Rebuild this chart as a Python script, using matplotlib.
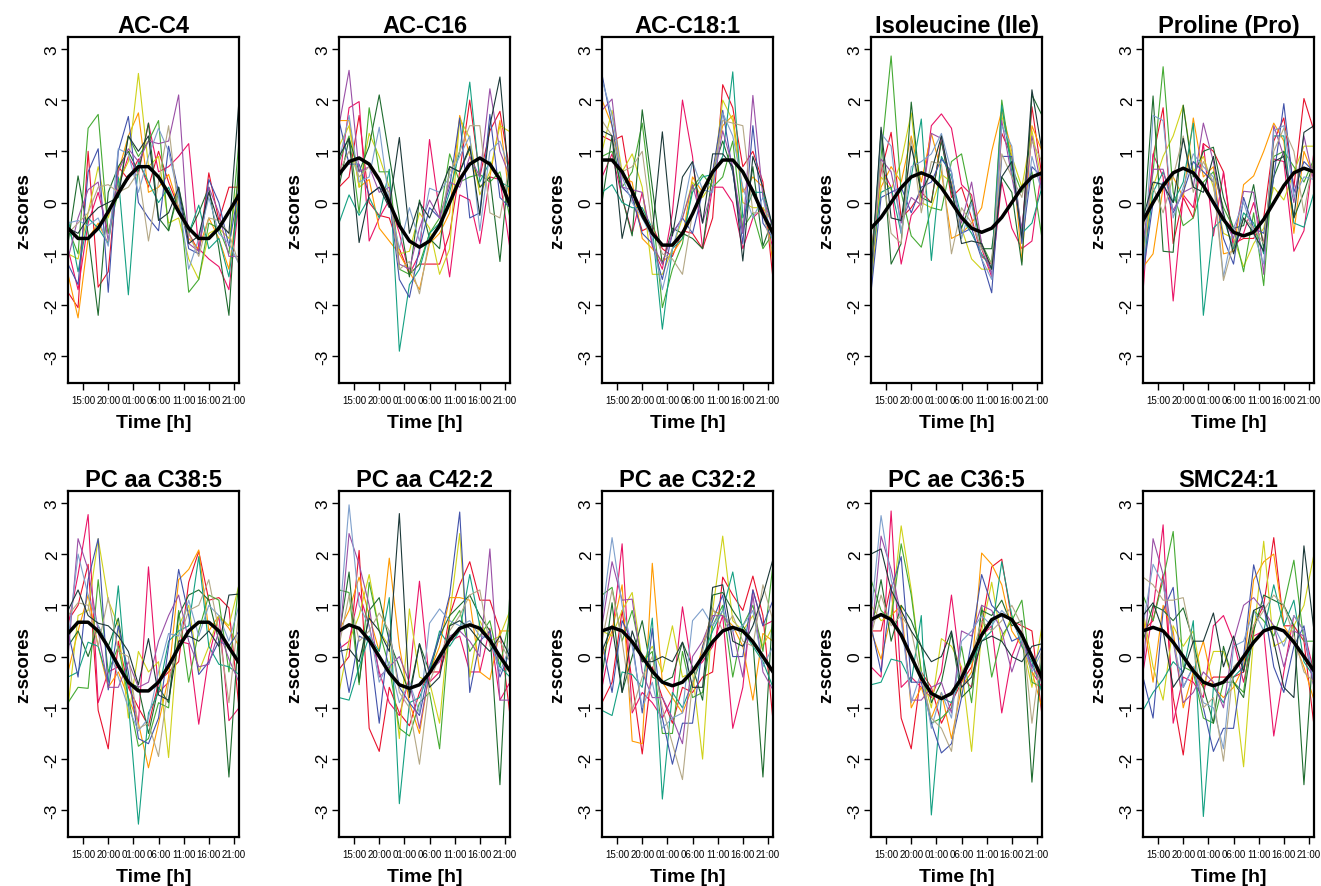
import matplotlib
matplotlib.use('Agg')
import matplotlib.pyplot as plt

plt.rcParams['font.family'] = ['Liberation Sans', 'DejaVu Sans']

# sampling times (hours from midnight of day 1), every 2 h
time_h = [12, 14, 16, 18, 20, 22, 24, 26, 28, 30, 32, 34, 36, 38, 40, 42, 44, 46]
tick_pos = [15, 20, 25, 30, 35, 40, 45]
tick_lab = ['15:00', '20:00', '01:00', '06:00', '11:00', '16:00', '21:00']

titles = ['AC-C4', 'AC-C16', 'AC-C18:1', 'Isoleucine (Ile)', 'Proline (Pro)',
          'PC aa C38:5', 'PC aa C42:2', 'PC ae C32:2', 'PC ae C36:5', 'SMC24:1']

# one colour per subject
subj_colors = ['#E8112D', '#EA1467', '#FF9A00', '#CFD21A', '#45AA33', '#1E6B2E',
               '#14A082', '#4152AA', '#9A4FA6', '#7FA0CC', '#B4A886', '#1B3838']

# z-scores per subject (rows) at each time point
ac_c4 = [
    [-1.75, -2.05, 1.0, -1.65, -1.35, 0.7, 0.45, 0.85, 0.3, 1.0, 0.4, -0.1, -0.6, -0.95, 0.58, -0.35, 0.3, 0.3],
    [-0.9, -1.7, -0.4, 0.2, -0.6, 0.3, 0.9, 0.55, 1.55, 0.6, 0.7, 0.9, 1.15, -0.9, -1.1, -1.25, -1.7, 0.0],
    [-1.4, -2.25, -0.7, -0.4, -0.8, 0.6, 1.3, 1.75, 0.2, 0.3, 0.55, -0.1, -0.7, -0.9, -0.3, -0.7, -1.3, 0.2],
    [-1.0, -1.1, -0.2, 0.7, -0.3, 0.4, 0.8, 2.52, 0.7, 0.9, -0.4, -0.3, -1.1, -1.5, -0.6, -0.5, -0.7, 0.5],
    [-0.5, -1.0, 1.45, 1.72, -0.6, 0.2, 1.3, 0.9, 1.2, 1.6, -0.55, 0.2, -1.75, -1.5, -0.4, -0.5, -1.0, 1.2],
    [-0.8, 0.52, -0.6, -2.2, 0.2, 0.7, 1.0, 0.6, 1.55, -0.3, -0.55, 0.3, -0.6, -0.2, 0.3, -0.9, -2.2, 0.9],
    [-0.3, -1.35, -0.3, -0.5, -0.8, 0.5, -1.8, 0.8, 0.4, 0.0, 0.3, -0.2, -0.6, -0.05, -0.9, -0.7, -1.45, 0.1],
    [-1.2, -1.6, 0.6, 1.05, -1.75, 1.0, 1.68, 0.0, -0.3, -0.55, 1.1, 0.2, -0.9, -1.0, 0.45, 0.0, -0.85, 0.3],
    [-1.1, -0.3, 0.25, 0.4, -0.75, 0.6, 1.05, 0.8, 1.2, 1.15, 1.2, 2.1, -0.8, -0.95, 0.3, -0.2, -1.05, -1.05],
    [-0.4, -0.35, -0.45, -0.3, -0.85, 1.05, 0.95, 0.2, 0.9, 1.45, 1.0, 0.1, -1.3, -0.7, 0.1, -0.6, -0.8, -1.2],
    [-0.6, -0.4, -0.2, 0.3, 0.35, 0.2, 0.3, 0.6, -0.75, 0.4, 1.5, -0.2, -0.6, -1.05, -0.3, -0.35, -0.6, -1.2],
    [-0.5, -0.6, -0.3, -0.1, 0.0, 0.1, 1.3, 1.0, 1.3, -0.35, -0.2, 0.3, -0.8, -0.65, 0.2, -0.4, -0.6, 2.0],
]
ac_c16 = [
    [0.3, 0.5, 1.7, 0.0, -0.25, -0.3, -0.9, -1.4, -1.2, -1.2, -1.2, -0.6, 0.6, 2.0, 0.5, 1.4, 1.78, 0.6],
    [0.4, 1.85, 1.97, -0.75, -0.3, 0.05, -0.6, -1.4, -1.0, 1.23, -0.2, -1.45, 0.15, 0.05, -0.8, 0.5, 0.45, -0.9],
    [1.6, 1.6, 0.3, 0.45, -0.5, -0.75, -1.0, -1.35, -1.7, -0.8, -0.6, -0.2, 1.7, 0.9, 0.3, 0.5, 1.6, 0.0],
    [1.1, 1.5, 0.3, 1.35, 0.9, 0.3, -1.0, -0.95, -0.2, -0.5, -1.4, -0.9, 1.65, 1.25, 0.15, 0.6, 1.5, 1.38],
    [0.8, 1.3, -0.2, 1.85, 0.6, 0.6, -1.3, -1.4, -1.2, -0.6, -0.3, 0.95, 0.4, 0.5, 0.55, 0.4, 0.6, -0.3],
    [0.3, 1.25, 0.6, 1.1, 2.1, 0.9, -0.3, -1.45, 0.05, -0.7, -0.9, 0.7, 0.6, 1.05, 0.3, 0.5, -1.15, 0.9],
    [-0.4, 0.15, -0.25, 0.1, -0.3, 0.65, -2.9, -1.6, -1.3, -0.6, -0.4, 0.2, 1.0, 2.35, 0.4, 0.8, 0.4, 0.3],
    [1.6, 0.75, 0.75, 0.15, 0.3, 0.1, -1.5, -1.85, -0.9, -0.1, -0.3, 0.3, 1.65, -0.3, -0.2, 1.72, 0.1, -0.1],
    [1.5, 2.58, 0.6, 0.7, 0.2, 0.3, -1.2, -1.3, -0.5, 0.05, -0.3, 0.4, 0.3, 0.9, 0.5, 2.22, 1.0, 0.5],
    [0.8, 1.7, 0.4, 0.5, 1.47, 0.0, -0.9, -0.1, -0.75, 0.28, 0.2, 0.5, 0.9, 1.3, -0.55, 1.0, 1.2, 0.6],
    [0.6, 1.0, 0.5, 0.7, 0.4, 0.2, -1.3, -1.15, -1.78, -0.7, -0.5, 0.6, 1.0, 1.5, 1.5, -0.2, -0.3, 0.8],
    [0.9, 1.25, -0.78, 0.15, 0.3, -0.1, 1.27, -0.6, 0.0, -0.3, 0.2, 0.7, 0.6, 1.1, -0.25, 1.5, 2.45, 0.2],
]
ac_c18_1 = [
    [1.3, 1.2, 1.3, 0.1, -0.55, -0.45, -0.9, -1.05, -0.55, -0.6, -0.9, -0.3, 2.3, 1.85, 0.7, 1.0, 0.4, -1.49],
    [0.5, 0.95, 0.1, -0.6, 0.2, -0.85, -1.3, -0.2, 2.0, 0.9, -0.9, 0.3, 0.3, 0.0, -0.9, -0.3, -0.1, -0.9],
    [2.0, 1.5, 0.5, 0.4, -0.7, -0.9, -1.15, -1.0, -0.7, 0.5, 0.2, 0.6, 1.5, 1.7, 0.2, 0.5, 0.3, -1.2],
    [1.0, 1.8, 0.6, 0.95, 0.3, -1.4, -1.4, -0.9, -0.3, 0.4, 0.1, 0.4, 2.0, 1.6, 0.0, -0.1, -0.1, -0.4],
    [0.9, 1.0, 0.3, 0.6, 1.55, -0.1, -2.05, -1.3, -0.8, 0.3, 0.55, 0.3, 0.5, 1.2, -0.5, -0.2, -0.9, -0.6],
    [0.0, 1.3, 0.1, -0.65, 1.81, 0.3, -1.2, -0.5, -0.6, -0.7, -0.9, 0.6, 1.2, 0.6, -0.6, 0.7, -0.85, -0.3],
    [0.2, 0.35, 0.0, -0.1, -0.1, -0.5, -2.47, -0.9, -0.7, 0.2, 0.5, 0.55, 0.9, 2.55, -0.3, 0.2, 0.2, -0.5],
    [2.5, 1.5, 0.3, 0.1, -0.6, -0.8, -1.5, -0.6, -0.3, -0.6, 0.2, 0.6, 1.8, 0.6, -0.8, 1.5, -0.4, -0.7],
    [1.8, 2.02, 0.3, 0.25, 0.2, -0.8, -1.2, -0.6, -0.3, 0.35, -0.4, 0.3, 1.4, 0.7, -0.6, 2.09, 0.1, -0.5],
    [2.4, 1.7, 0.5, 0.0, -0.3, -0.7, -1.7, -0.9, -0.2, 0.8, 0.25, 0.2, 1.75, 1.3, 0.3, -0.3, 0.1, -0.8],
    [1.6, 1.3, 0.6, 0.7, 1.0, -0.5, -1.0, -1.1, -1.4, -0.2, 0.3, 0.5, 1.6, 1.55, 1.5, -0.2, -0.2, -1.0],
    [1.4, 1.3, -0.7, 0.2, -0.3, -0.6, 1.38, -0.65, 0.5, 0.8, -0.4, 0.95, 0.95, 0.7, -1.14, 0.9, 0.3, -0.5],
]
isoleucine = [
    [-1.0, 0.6, 1.37, -0.3, -0.1, 0.2, 0.0, 1.25, 0.1, 0.3, -0.3, -1.05, -1.2, 1.35, 0.9, -0.6, 1.87, 0.5],
    [-1.5, 0.7, 0.3, -1.2, -0.25, 0.0, 1.5, 1.73, 1.45, 0.35, 0.15, -0.9, -1.45, 0.4, -0.5, -0.9, -0.75, 0.7],
    [-1.3, 0.3, 0.7, 0.4, 1.3, 0.4, 1.35, 0.6, -0.7, -0.6, -0.4, -0.1, 1.0, 1.8, 1.0, -1.15, 1.5, 1.0],
    [-1.7, 0.5, 0.25, 0.8, 1.75, 0.0, -0.1, 0.55, 0.4, -0.5, -1.1, -1.3, -1.3, 1.7, 0.9, 0.3, 1.4, 0.4],
    [-1.1, 0.9, 2.86, 0.2, -0.65, -0.87, -0.1, -0.15, 0.8, 0.95, 0.0, -0.8, -1.2, 2.0, 0.7, 0.2, 0.6, -0.7],
    [-1.6, 1.4, -1.2, -0.8, 1.96, 0.1, 0.0, 1.2, 0.2, -0.5, 0.05, -0.9, -0.9, 0.5, 0.2, -1.22, 2.1, 1.7],
    [-1.2, 0.2, 0.3, -0.6, 0.5, 1.63, -1.13, 0.9, 0.5, -0.3, -0.6, -1.0, -1.3, 1.9, 0.6, -0.6, -0.4, 0.3],
    [-1.75, 0.1, 0.2, 0.3, -0.2, 0.3, 0.4, 0.85, 0.6, -0.6, -0.5, -1.1, -1.76, 0.9, 0.9, -0.8, 0.7, 0.5],
    [-1.4, 0.85, 0.6, -0.4, 0.1, -0.05, 1.35, 1.25, 0.35, -0.4, 0.4, -0.8, -1.4, 1.6, 0.5, -0.5, 1.3, 0.2],
    [-1.5, 1.35, 1.1, -0.6, 0.7, 0.8, 0.95, 1.35, 0.6, -0.7, 0.0, -1.1, -1.5, 1.5, 1.1, -0.7, 0.9, 0.2],
    [-1.3, 0.8, -0.6, -0.8, 1.25, -0.2, 0.8, 0.75, -1.0, -0.1, -0.4, -0.9, -1.2, 0.95, 0.5, 0.1, 1.2, 0.8],
    [-1.45, 1.47, -0.3, -0.35, 1.1, 0.2, 0.6, 1.3, 0.3, -0.8, -0.75, -0.8, -1.3, 0.5, 0.8, -0.7, 2.2, 1.0],
]
proline = [
    [-1.1, 0.9, 1.85, -0.8, 0.1, -0.3, 1.15, 1.0, 0.6, -0.8, -0.7, -0.7, -0.3, 1.2, 1.65, 0.3, 2.03, 1.4],
    [-1.75, 0.95, 0.5, -1.92, 0.15, -0.1, 1.15, -0.65, 0.6, -0.9, -0.6, 0.0, -0.8, 0.85, 0.8, -0.95, -0.55, 1.0],
    [-1.26, -1.0, 0.3, 0.5, 0.1, 1.65, 0.5, 0.7, -1.0, -0.95, 0.35, 0.52, 1.0, 1.55, 1.2, -0.6, 1.0, 0.5],
    [-1.0, 0.3, 0.9, 1.3, 1.9, 0.6, 0.9, 0.3, -0.6, -0.7, -1.25, -0.8, -0.5, 0.3, 0.05, 0.6, 1.1, 1.1],
    [-0.9, 0.6, 2.65, 0.2, -0.45, -0.3, 0.4, 0.6, -0.1, -0.5, -1.35, -0.2, -1.62, 0.9, 1.0, 0.7, 0.4, 0.85],
    [-0.6, 2.08, -0.95, -0.97, 1.9, 0.5, 1.0, 1.08, 0.1, -0.5, -0.45, 0.35, -0.9, 0.5, 1.0, -0.3, 0.2, 0.8],
    [-1.3, 0.2, 0.6, 0.0, 0.4, 1.55, -2.2, -0.5, -0.3, -0.9, -0.2, -0.4, -1.0, 1.3, 1.3, -0.4, -0.48, 0.2],
    [-1.4, 0.0, 0.4, -0.2, 0.2, 0.8, 0.6, 0.4, -0.7, -1.2, 0.1, -0.5, -0.6, 0.5, 1.93, 0.2, 0.8, 0.6],
    [-0.8, 0.65, 0.65, -0.15, 0.2, 0.3, 1.55, 0.8, -0.3, -0.7, 0.22, 0.2, -1.4, 1.5, 0.9, 0.0, 1.3, 0.4],
    [-1.5, 1.7, 1.6, -0.3, 0.3, 0.95, 0.7, 0.5, -1.45, -0.5, 0.0, -0.6, -1.2, 1.4, 1.5, 0.1, 0.5, 0.45],
    [-0.5, 0.3, -0.2, 0.5, 1.3, 0.2, 0.8, 0.4, -1.52, -0.8, -0.3, -0.5, -0.8, 1.0, 1.45, 1.0, -0.2, 0.9],
    [-0.3, 0.4, 0.35, 0.0, 1.25, 0.3, 0.2, 0.9, -0.2, -1.0, -0.3, -0.6, -0.95, 0.8, 0.9, -0.3, 1.37, 1.5],
]
pc_aa_c38_5 = [
    [0.7, 1.0, 1.8, -1.05, -1.8, 0.3, -0.6, -1.0, -1.35, -0.5, -0.3, -0.1, 1.45, 2.05, 1.1, 1.15, 0.95, -1.0],
    [0.6, 1.6, 2.77, -0.9, -0.3, -0.2, -0.5, -1.3, 1.75, -0.7, -0.5, 0.3, 0.25, -1.32, 0.0, 0.8, -1.25, -1.0],
    [-0.3, 0.5, 1.2, 0.2, -0.6, -0.3, -0.8, -1.3, -2.17, -1.3, -0.4, 1.5, 1.7, 2.08, 0.5, 0.8, 0.55, 0.2],
    [-1.0, 0.8, 0.9, 2.3, 1.1, 0.6, -1.2, 0.1, -0.3, -0.1, -1.97, 0.6, 1.0, -0.3, 0.2, 0.8, 0.6, 1.4],
    [-0.9, -0.6, -0.62, 1.5, -0.3, 0.2, -0.8, -1.75, -1.6, -0.9, -1.0, 0.9, -0.5, 0.5, 1.2, 1.1, -0.3, 1.45],
    [0.2, 0.5, 0.0, 0.6, 0.2, 0.75, -0.5, -0.6, -1.5, -0.6, -0.9, 0.8, 1.2, 1.3, 1.1, 0.3, -2.35, 0.6],
    [-0.4, -0.3, 0.28, 0.2, -0.5, 1.38, -0.9, -3.27, -1.1, -0.7, 0.3, 0.5, 0.6, 1.95, 0.2, -0.15, -0.2, -0.35],
    [0.5, -0.4, 1.5, 2.3, -0.65, 0.6, -0.3, -1.6, -1.7, -1.2, 0.2, 1.7, 0.8, -0.35, -0.1, 0.3, 0.2, 0.5],
    [0.0, 2.3, 1.7, 0.5, -0.6, -0.6, -0.1, -0.6, -0.5, 0.3, 0.8, 1.2, 0.3, -0.2, -0.15, 0.5, -0.05, -0.5],
    [0.3, 2.0, 1.2, 0.6, 0.2, -0.4, -1.0, -1.45, -1.2, -0.3, 0.45, 0.4, 1.1, 0.4, 1.0, 0.8, 0.3, 1.0],
    [0.8, 1.05, 1.0, 0.2, 1.15, 0.1, 0.0, -1.4, -1.3, -1.95, -0.5, 0.3, 0.9, 1.0, 1.5, 0.5, -0.9, 0.9],
    [0.9, 1.3, 0.8, 0.65, 0.6, 0.4, 0.1, -0.55, 0.35, -0.75, -0.85, 0.3, 0.4, 0.3, 0.5, 0.2, 1.2, 1.22],
]
pc_aa_c42_2 = [
    [-0.25, 0.0, 2.07, -1.4, -1.85, -0.6, -1.1, -1.35, -0.7, -0.3, -0.3, 0.8, 1.4, 1.85, 1.1, 1.1, 0.5, -1.15],
    [0.15, 0.3, 1.25, 0.6, -0.3, -0.9, -1.15, -0.4, 1.47, -0.5, -0.3, 0.3, 0.4, -0.3, -0.3, 0.55, -0.85, -0.5],
    [0.5, 0.9, 1.55, 0.8, 0.1, 1.92, 0.2, -0.9, -1.5, -0.3, 0.2, 1.15, 1.15, 1.1, -0.3, -0.45, 0.5, 0.5],
    [-0.7, 0.3, 0.8, 1.6, 0.5, 0.2, -1.6, 0.93, -0.4, -0.5, -1.3, 0.8, 2.4, -0.4, 0.7, 0.3, 0.4, 0.9],
    [1.3, 1.25, -0.55, 1.45, 0.5, -0.2, -1.4, -1.55, -0.9, -0.7, -1.8, 0.6, 0.9, 0.1, 0.4, 0.7, -0.2, 0.8],
    [0.4, 1.65, -0.5, 0.9, 1.15, 0.3, -0.2, -0.7, 0.25, -0.3, 0.4, 0.8, 1.0, 1.2, 0.8, 0.5, -2.5, 1.3],
    [-0.8, -0.85, -0.2, 0.4, 0.1, 1.15, -2.87, -0.9, -0.8, -0.3, 0.5, 0.2, 0.5, 1.6, 0.6, 0.3, -0.2, -0.4],
    [0.4, -0.7, 0.4, 0.3, -1.3, 0.5, -0.6, -0.9, -1.15, -0.2, 0.4, 1.2, 2.82, -0.7, 0.3, 0.5, -0.4, 0.1],
    [0.2, 2.4, 1.8, 1.0, -0.4, -0.2, 0.0, -0.5, -1.4, -0.3, -0.1, 0.4, 0.5, 0.3, 0.0, 2.1, -0.85, -0.85],
    [0.6, 2.96, 1.0, 0.6, -0.5, -0.1, -0.9, -0.5, -1.1, 0.65, 0.93, 0.7, 0.6, 0.7, 0.4, 0.35, -0.3, 0.2],
    [0.2, 1.2, 0.3, 0.5, 0.85, 0.5, -0.7, -1.0, -2.1, -0.5, 0.0, 0.5, 0.8, 1.2, 1.3, 0.2, 0.3, -0.1],
    [0.1, 0.15, -0.1, 0.75, 0.5, 0.1, 2.79, -0.8, 0.25, -0.6, -0.4, 0.6, 0.7, 0.55, 0.3, 0.1, 0.4, 0.0],
]
pc_ae_c32_2 = [
    [-0.9, -0.5, 0.9, -0.5, -1.9, -0.2, -0.8, -1.3, -0.6, -0.7, -0.4, -0.3, 1.55, 1.2, 0.9, 1.57, 0.8, -1.25],
    [-0.6, 0.4, 2.2, -1.1, -0.7, -0.9, -1.2, -0.8, 0.97, -0.3, -0.1, 0.2, 0.8, -1.4, -0.6, 1.3, 0.6, 0.7],
    [0.0, 0.5, 1.4, -1.65, -1.7, 1.82, -0.5, -0.8, -1.1, -0.6, 0.2, 0.9, 0.8, 0.6, 0.2, -0.85, 0.45, 0.3],
    [0.5, 0.4, 0.9, 1.25, -0.1, 0.2, -0.3, 0.6, -0.4, -0.3, -2.0, 0.9, 2.35, 0.7, 0.5, 0.8, 0.2, 0.6],
    [1.2, 1.35, 0.3, 0.9, -0.1, 0.1, -1.5, -1.5, 0.1, -0.8, -0.7, 0.6, 1.0, -0.4, 0.6, 1.0, 0.1, 1.8],
    [-0.4, 1.05, -0.7, 0.0, 0.7, -0.4, -0.5, -0.4, 0.28, -0.2, -0.85, 1.2, 1.25, 0.9, 0.6, 0.3, -2.35, 1.0],
    [-1.05, -1.15, -0.3, -0.35, -0.6, 0.75, -2.78, -0.7, -1.0, -0.5, 0.0, 0.5, 0.9, 1.65, 0.5, 0.2, -0.1, -0.6],
    [0.3, -0.7, 0.7, 0.3, -1.1, 0.55, -1.2, -2.1, -1.3, -1.3, 0.2, 0.7, 1.2, 0.0, 0.0, 1.3, 0.6, 1.1],
    [0.6, 1.85, 1.1, 1.12, -0.3, -0.8, -0.8, -1.2, -1.7, 0.0, 0.3, 0.8, 0.8, 0.5, -0.4, 1.2, -0.3, -0.65],
    [0.8, 2.32, 1.0, 0.2, -1.0, -0.5, -1.4, -1.2, -1.1, 0.7, 0.93, 0.6, 0.9, 0.5, 0.6, 0.9, -0.2, 0.2],
    [0.3, 1.3, 0.3, -1.05, -0.4, 0.0, -1.0, -1.7, -2.4, -0.5, 0.1, 0.95, 0.5, 0.8, 0.3, 0.2, 1.4, 0.7],
    [0.1, 0.6, -0.7, 0.5, -0.1, -0.1, 0.0, -0.1, 0.28, -0.6, -0.6, 1.35, 1.4, 0.3, 0.2, 0.6, 1.2, 1.9],
]
pc_ae_c36_5 = [
    [0.5, 0.5, 1.4, -1.2, -1.8, -0.3, -0.6, -1.3, -0.9, -0.5, -0.2, 0.6, 1.75, 1.9, 0.7, 0.6, 0.5, -1.15],
    [-0.2, -0.4, 2.84, -0.6, -0.4, -0.6, -0.8, -0.3, 1.2, -0.4, -0.6, 0.4, 0.6, -1.1, 0.0, 0.5, -0.3, -0.6],
    [0.5, -0.05, 0.8, 1.0, -1.0, -0.6, -1.2, -0.7, -1.6, -0.6, -0.3, 2.02, 1.8, 1.4, 0.5, 0.2, -0.3, -1.0],
    [1.0, 0.7, 0.8, 2.55, 1.3, -0.3, -1.0, 0.35, 0.2, -0.2, -1.85, 0.5, 1.45, 0.3, 0.8, 0.3, -0.6, 0.6],
    [1.5, 0.9, 0.7, 2.2, 1.2, -0.3, -1.3, -1.2, -1.0, 0.2, -0.9, 1.0, -0.4, 0.4, 0.7, 1.1, -0.5, -0.6],
    [0.5, 1.5, 0.3, 1.0, 0.7, 0.2, -0.9, -0.5, 0.45, -0.8, -0.6, 0.9, 0.8, 1.1, 0.6, 0.7, -2.45, 0.1],
    [-0.55, -0.5, -0.05, -0.1, -0.5, 0.8, -3.09, -0.8, -0.9, -0.4, -0.1, 0.3, 0.5, 1.85, 0.8, 0.2, -0.1, -0.7],
    [0.6, -0.3, 1.3, 1.95, -0.5, -0.5, -1.3, -1.88, -1.7, -0.8, 0.3, 1.6, 1.0, 0.8, 0.3, 0.4, -0.2, 0.2],
    [0.3, 2.35, 1.7, 0.8, -0.85, -0.85, -0.6, -0.5, -1.1, 0.5, 0.4, 1.0, 0.9, 0.5, -0.3, 0.3, -0.2, -0.5],
    [0.8, 2.75, 1.5, 0.7, -0.9, -0.3, -1.4, -0.7, -1.2, 0.3, 0.5, 0.8, 0.6, 0.9, 0.7, 0.3, -0.3, 0.1],
    [0.4, 1.2, 0.6, 0.8, 0.5, -0.4, -1.2, -1.4, -1.85, -0.3, 0.0, 0.7, 0.5, 0.7, 1.0, 0.6, -1.3, 0.2],
    [2.0, 2.1, 1.3, 0.9, 0.5, 0.2, -0.1, 0.0, 0.5, -0.6, -0.4, 0.3, 0.4, 0.3, 0.0, -0.1, 0.2, 0.25],
]
smc24_1 = [
    [0.5, 0.7, 1.6, -0.8, -1.92, -0.3, -0.6, -0.4, -0.4, -0.4, -0.3, 0.6, 1.0, 2.32, 0.6, 0.6, 0.3, -1.35],
    [-0.3, 0.9, 2.57, -1.3, -0.4, -0.5, -0.8, 0.6, 0.8, 0.3, -0.5, 0.4, 0.5, -1.55, -0.3, 0.8, 0.5, -0.3],
    [0.8, -0.5, 1.0, 0.5, -1.0, -0.3, 0.3, -0.6, -0.8, -0.6, -0.2, 1.5, 1.85, 2.0, 0.6, 0.3, -0.2, -0.85],
    [0.9, -0.2, -0.85, 0.6, 0.2, 0.5, -0.6, 0.1, 0.1, -0.5, -2.15, 0.4, 2.25, 0.2, 0.3, 0.6, 1.0, 2.0],
    [1.2, 0.7, 1.5, 2.44, -0.2, -0.3, -1.2, -1.3, -0.5, -0.5, -0.7, 0.9, 0.7, 0.4, 1.0, 1.88, 0.3, 0.3],
    [0.3, 1.0, 0.9, 0.7, 0.95, 0.3, -0.6, -1.3, 0.2, -0.5, -0.8, 0.5, 1.2, 1.1, 1.0, 0.6, -2.5, 0.4],
    [-1.05, -0.7, -0.45, -0.1, -0.3, 0.7, -3.12, -0.6, -0.9, -0.4, -0.2, 0.3, 0.5, 1.4, 0.6, 1.1, -0.1, -0.4],
    [-0.4, -1.2, 0.9, 1.35, -0.6, -0.2, -1.0, -1.85, -1.4, -1.4, 0.0, 1.79, 1.0, -0.2, -0.7, 0.2, 0.6, -0.6],
    [-0.3, 2.3, 1.6, 0.3, -0.9, -0.7, -0.3, -0.5, -1.0, 0.3, 1.0, 1.15, 0.9, 0.6, -0.2, 0.5, 0.4, -0.6],
    [0.6, 1.8, 1.4, 0.3, -0.6, -0.2, -0.9, -1.0, -1.8, 0.2, 0.3, 0.9, 0.5, 0.6, 0.2, 0.8, 0.5, -0.5],
    [1.55, 1.4, 1.1, 1.1, 1.15, 0.2, -1.0, -0.8, -2.04, -0.2, 0.0, 0.6, 0.9, 1.2, 1.0, 0.4, -0.3, -0.5],
    [0.8, 1.05, 0.5, -0.6, -0.3, 0.3, 0.3, 0.85, -0.2, 0.4, -0.3, 0.9, 1.0, 0.3, -0.6, -0.8, 2.16, 0.5],
]

# fitted rhythm (thick black line), read at each time point
fit_ac_c4 = [-0.5, -0.7, -0.7, -0.5, -0.18, 0.18, 0.5, 0.7, 0.7, 0.5, 0.18, -0.18, -0.5, -0.7, -0.7, -0.5, -0.18, 0.15]
fit_ac_c16 = [0.55, 0.8, 0.87, 0.75, 0.45, 0.0, -0.45, -0.75, -0.87, -0.75, -0.45, 0.0, 0.45, 0.75, 0.87, 0.75, 0.45, -0.05]
fit_ac_c18_1 = [0.83, 0.83, 0.6, 0.22, -0.22, -0.6, -0.83, -0.83, -0.6, -0.22, 0.22, 0.6, 0.83, 0.83, 0.6, 0.22, -0.22, -0.6]
fit_isoleucine = [-0.5, -0.29, 0.0, 0.29, 0.5, 0.58, 0.5, 0.29, 0.0, -0.29, -0.5, -0.58, -0.5, -0.29, 0.0, 0.29, 0.5, 0.58]
fit_proline = [-0.35, 0.0, 0.33, 0.58, 0.67, 0.58, 0.33, 0.0, -0.33, -0.58, -0.65, -0.58, -0.33, 0.0, 0.33, 0.58, 0.67, 0.6]
fit_pc_aa_c38_5 = [0.45, 0.67, 0.67, 0.5, 0.18, -0.18, -0.5, -0.67, -0.67, -0.5, -0.18, 0.18, 0.5, 0.67, 0.67, 0.5, 0.18, -0.12]
fit_pc_aa_c42_2 = [0.5, 0.62, 0.55, 0.32, 0.0, -0.32, -0.55, -0.62, -0.55, -0.32, 0.0, 0.32, 0.55, 0.62, 0.55, 0.32, 0.0, -0.28]
fit_pc_ae_c32_2 = [0.5, 0.57, 0.5, 0.29, 0.0, -0.29, -0.5, -0.57, -0.5, -0.29, 0.0, 0.29, 0.5, 0.57, 0.5, 0.29, 0.0, -0.3]
fit_pc_ae_c36_5 = [0.72, 0.82, 0.72, 0.42, 0.0, -0.42, -0.72, -0.82, -0.72, -0.42, 0.0, 0.42, 0.72, 0.82, 0.72, 0.42, 0.0, -0.42]
fit_smc24_1 = [0.5, 0.57, 0.5, 0.28, 0.0, -0.28, -0.5, -0.57, -0.5, -0.28, 0.0, 0.28, 0.5, 0.57, 0.5, 0.28, 0.0, -0.28]

panels = [ac_c4, ac_c16, ac_c18_1, isoleucine, proline,
          pc_aa_c38_5, pc_aa_c42_2, pc_ae_c32_2, pc_ae_c36_5, smc24_1]
fits = [fit_ac_c4, fit_ac_c16, fit_ac_c18_1, fit_isoleucine, fit_proline,
        fit_pc_aa_c38_5, fit_pc_aa_c42_2, fit_pc_ae_c32_2, fit_pc_ae_c36_5, fit_smc24_1]

W, H = 1321, 887
fig = plt.figure(figsize=(W / 100, H / 100), dpi=100)

col_left = [68, 339, 602, 871, 1143]
row_top = [38, 492]
pw, ph = 171, 346

for i in range(10):
    r, c = divmod(i, 5)
    ax = fig.add_axes([col_left[c] / W, 1 - (row_top[r] + ph) / H, pw / W, ph / H])
    for subj, col in zip(panels[i], subj_colors):
        ax.plot(time_h, subj, color=col, lw=0.8)
    ax.plot(time_h, fits[i], color='black', lw=2.5, solid_joinstyle='round')

    ax.set_xlim(12, 46)
    ax.set_ylim(-3.52, 3.23)
    ax.set_xticks(tick_pos)
    ax.set_xticklabels(tick_lab, fontsize=7)
    ax.set_yticks([-3, -2, -1, 0, 1, 2, 3])
    ax.set_yticklabels(['-3', '-2', '-1', '0', '1', '2', '3'], fontsize=12.5,
                       rotation=90, va='center')
    ax.tick_params(direction='out', length=5, width=1)
    ax.tick_params(axis='x', pad=4)
    ax.tick_params(axis='y', pad=1)
    for s in ax.spines.values():
        s.set_linewidth(1.6)
    ax.set_title(titles[i], fontsize=17, fontweight='bold', pad=3)
    ax.set_xlabel('Time [h]', fontsize=14, fontweight='bold', labelpad=6)
    ax.set_ylabel('z-scores', fontsize=13.5, fontweight='bold', labelpad=9)

fig.savefig('out.png', dpi=100)
